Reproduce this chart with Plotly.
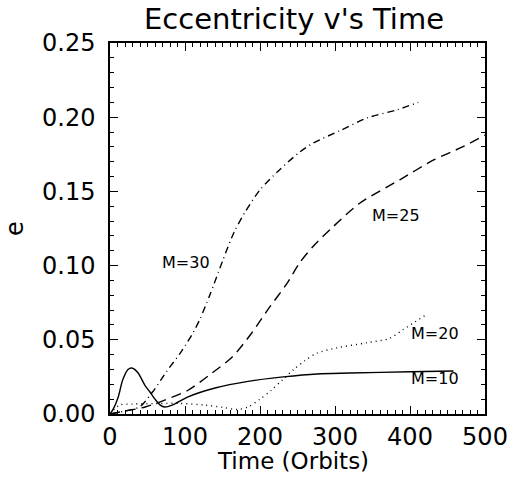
import plotly.graph_objects as go

# M=10 (solid)
m10_x = [0, 5, 11, 17, 24, 29, 37, 47, 53, 60, 67, 73, 83, 104, 140, 184, 231, 276, 320, 400, 458]
m10_y = [0.0, 0.004, 0.0115, 0.023, 0.030, 0.031, 0.028, 0.019, 0.015, 0.010, 0.006, 0.0047, 0.006,
         0.0115, 0.0175, 0.022, 0.025, 0.027, 0.0276, 0.0285, 0.029]

# M=20 (dotted)
m20_x = [0, 13, 31, 60, 91, 127, 150, 170, 185, 200, 215, 230, 245, 260, 276, 302, 342, 373, 391, 422]
m20_y = [0.0, 0.006, 0.0067, 0.007, 0.0072, 0.006, 0.0045, 0.003, 0.005, 0.010, 0.016, 0.023, 0.030,
         0.036, 0.041, 0.0445, 0.048, 0.051, 0.057, 0.067]

# M=25 (dashed)
m25_x = [0, 20, 47, 73, 104, 136, 163, 189, 210, 236, 253, 271, 297, 333, 387, 431, 470, 500]
m25_y = [0.0, 0.002, 0.0047, 0.0094, 0.016, 0.0276, 0.0384, 0.0546, 0.070, 0.088, 0.102, 0.113,
         0.126, 0.142, 0.158, 0.171, 0.180, 0.188]

# M=30 (dash-dot)
m30_x = [0, 20, 40, 57, 76, 95, 111, 120, 133, 150, 165, 180, 200, 227, 253, 271, 307, 343, 383, 411]
m30_y = [0.0, 0.002, 0.005, 0.015, 0.029, 0.042, 0.055, 0.064, 0.080, 0.103, 0.122, 0.136, 0.151,
         0.165, 0.1765, 0.1826, 0.191, 0.1995, 0.205, 0.210]

labels = ["M=30", "M=25", "M=20", "M=10"]
label_x = [101, 381, 433, 433]
label_y = [0.1024, 0.134, 0.054, 0.0236]

FONT = "DejaVu Sans"

fig = go.Figure()
line_w = 1.4
fig.add_trace(go.Scatter(x=m10_x, y=m10_y, mode="lines", line=dict(color="black", width=line_w, shape="spline", smoothing=0.8)))
fig.add_trace(go.Scatter(x=m20_x, y=m20_y, mode="lines", line=dict(color="black", width=line_w, dash="1px,4px", shape="spline", smoothing=0.8)))
fig.add_trace(go.Scatter(x=m25_x, y=m25_y, mode="lines", line=dict(color="black", width=line_w, dash="10px,6px", shape="spline", smoothing=0.8)))
fig.add_trace(go.Scatter(x=m30_x, y=m30_y, mode="lines", line=dict(color="black", width=line_w, dash="7px,4px,1px,4px", shape="spline", smoothing=0.8)))

for t, lx, ly in zip(labels, label_x, label_y):
    fig.add_annotation(x=lx, y=ly, text=t, showarrow=False, font=dict(family=FONT, size=16, color="black"))

# title and axis titles as paper-anchored annotations
fig.add_annotation(x=0.491, y=1.066, xref="paper", yref="paper", text="Eccentricity v's Time", showarrow=False,
                   xanchor="center", yanchor="middle", font=dict(family=FONT, size=29, color="black"))
fig.add_annotation(x=0.488, y=-0.126, xref="paper", yref="paper", text="Time (Orbits)", showarrow=False,
                   xanchor="center", yanchor="middle", font=dict(family=FONT, size=23, color="black"))
fig.add_annotation(x=-0.253, y=0.499, xref="paper", yref="paper", text="e", showarrow=False,
                   xanchor="center", yanchor="middle", textangle=-90, font=dict(family=FONT, size=24, color="black"))

axis_common = dict(
    showgrid=False, zeroline=False, showline=True, linecolor="black", linewidth=1.5,
    mirror="ticks", ticks="inside", ticklen=8, tickwidth=1.2, tickcolor="black",
    tickfont=dict(family=FONT, size=24, color="black"), automargin=False,
)

fig.update_xaxes(range=[0, 500], dtick=100, tick0=0,
                 minor=dict(dtick=10, ticklen=4, ticks="inside", tickcolor="black", tickwidth=1),
                 **axis_common)
fig.update_yaxes(range=[0, 0.25], dtick=0.05, tick0=0, tickformat=".2f", ticklabelstandoff=8,
                 minor=dict(dtick=0.01, ticklen=4, ticks="inside", tickcolor="black", tickwidth=1),
                 **axis_common)

fig.update_layout(
    width=510, height=491,
    margin=dict(l=110, r=25, t=43, b=77),
    paper_bgcolor="white", plot_bgcolor="white",
    showlegend=False,
)

fig.write_html("out.html", config={"displayModeBar": False},
               post_script="document.body.style.margin='0px';document.body.style.padding='0px';")
